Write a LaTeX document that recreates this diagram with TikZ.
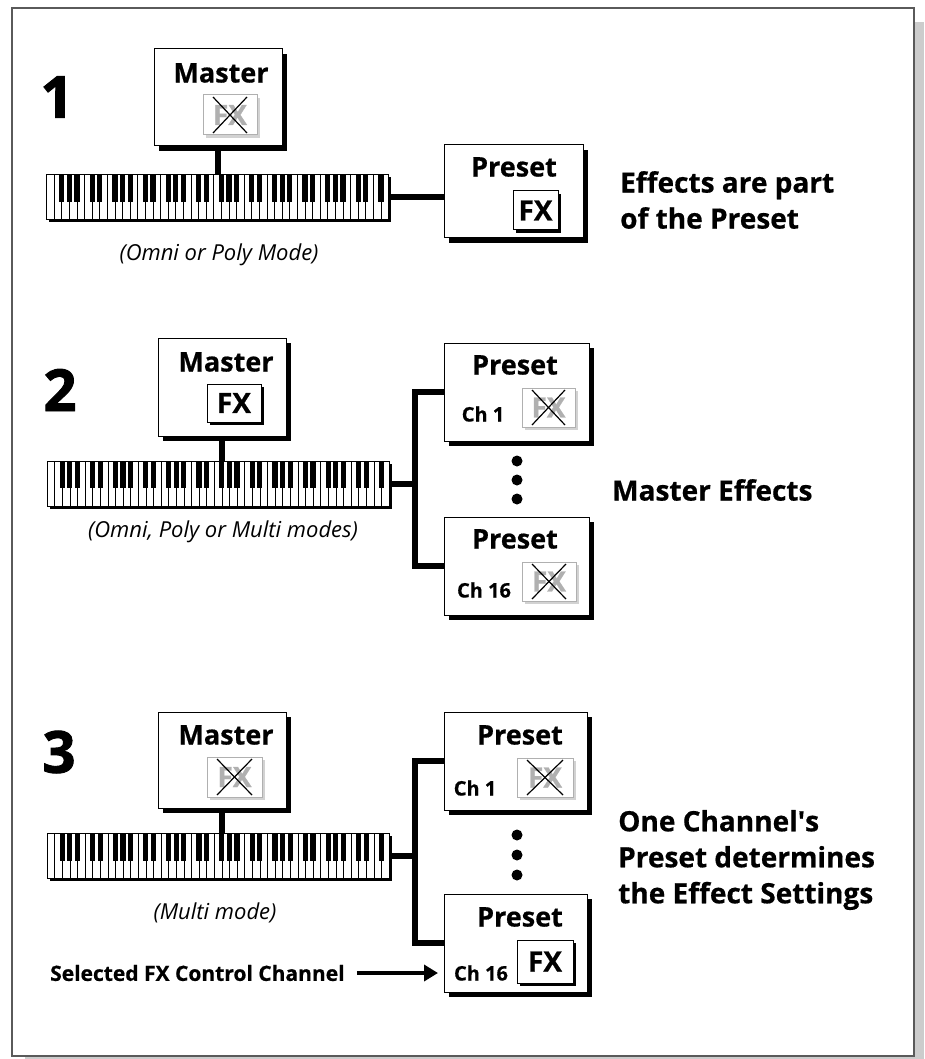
\documentclass[tikz,border=0pt]{standalone}
\usepackage{fontspec}
\setmainfont{Open Sans}[BoldFeatures={FakeBold=0.6}]
\newfontfamily\numfont[FakeBold=1.6]{Open Sans}
\usetikzlibrary{calc,shadows,arrows.meta}
\definecolor{FXGray}{HTML}{B0B0B0}
\definecolor{FXShade}{HTML}{D2D2D2}
\definecolor{FrameGray}{HTML}{5A5A5A}
\definecolor{FrameShade}{HTML}{CCCCCC}

\tikzset{
  unitbox/.style={draw=black, fill=white, line width=1pt, inner sep=0pt, outer sep=0pt,
    drop shadow={shadow xshift=5pt, shadow yshift=-5pt, fill=black, opacity=1}},
  fxon/.style={draw=black, fill=white, line width=1pt, inner sep=0pt, outer sep=0pt,
    font=\fontsize{28}{28}\selectfont\bfseries,
    drop shadow={shadow xshift=3pt, shadow yshift=-3pt, fill=black, opacity=1}},
  fxoff/.style={draw=FXGray, fill=white, line width=1pt, inner sep=0pt, outer sep=0pt,
    text=FXGray, font=\fontsize{28}{28}\selectfont\bfseries,
    drop shadow={shadow xshift=3pt, shadow yshift=-3pt, fill=FXShade, opacity=1}},
  keybed/.style={draw=black, fill=white, line width=1pt, inner sep=0pt, outer sep=0pt,
    minimum width=342pt, minimum height=45pt,
    drop shadow={shadow xshift=2.5pt, shadow yshift=-2.5pt, fill=black, opacity=1}},
  bus/.style={line width=6pt, line join=miter},
  xmark/.style={line width=1.2pt},
  fxarrow/.style={line width=4.5pt, -{Triangle[length=14pt,width=16pt]}},
  title/.style={font=\fontsize{27}{27}\selectfont\bfseries, inner sep=0pt},
  chan/.style={font=\fontsize{20}{20}\selectfont\bfseries, inner sep=0pt},
  callout/.style={font=\fontsize{21}{21}\selectfont\bfseries, inner sep=0pt, anchor=west},
  mode/.style={font=\fontsize{22}{22}\selectfont\itshape, inner sep=0pt},
  note/.style={font=\fontsize{28}{36}\selectfont\bfseries, align=left, anchor=west, inner sep=0pt},
  bignum/.style={font=\fontsize{58}{58}\selectfont\numfont\bfseries, inner sep=0pt},
}

% keys of a 76-note keyboard, E to G
\newcommand\drawkeys[1]{%
  \foreach \i in {1,...,44}
    \draw[line width=.6pt] ($(#1.north west)+(\i*7.6,0)$) -- ++(0,45);
  \foreach \o in {0,...,6}
    \foreach \k in {2,3,4,6,7} {
      \pgfmathtruncatemacro\bnd{7*\o+\k}
      \ifnum\bnd<45
        \fill ($(#1.north west)+(\bnd*7.6-2.6,0)$) rectangle ++(5.2,27);
      \fi
    }%
}
\newcommand\crossout[1]{%
  \draw[xmark] ($(#1.north west)+(10,2)$) -- ($(#1.south east)+(-10,-2)$);
  \draw[xmark] ($(#1.north east)+(-10,2)$) -- ($(#1.south west)+(10,-2)$);
}

\begin{document}
\begin{tikzpicture}[x=1pt,y=-1pt]
\useasboundingbox (0,0) rectangle (924,1059);
\fill[FrameShade] (25,22) rectangle (924,1059);
\draw[FrameGray, fill=white, line width=1.5pt] (12,8) rectangle (914,1056);

% 1: effects in the preset
\node[bignum] (numA) at (57,97) {1};
\node[unitbox, minimum width=128pt, minimum height=97pt] (mA) at (218,97.5) {};
\node[title] (mAt) at (221,73) {Master};
\node[fxoff, minimum width=54pt, minimum height=40pt] (mAfx) at (230,115) {FX};
\crossout{mAfx}
\node[keybed] (kbdA) at (217.5,197.5) {};
\drawkeys{kbdA}
\draw[bus] (mA.south) -- (mA.south |- kbdA.north);
\node[mode] (capA) at (219,255) {(Omni or Poly Mode)};
\node[unitbox, minimum width=139pt, minimum height=93pt] (pA) at (513.5,191.5) {};
\node[title] (pAt) at (514,167) {Preset};
\node[fxon, minimum width=45pt, minimum height=39pt] (pAfx) at (535.5,210.5) {FX};
\draw[bus] (kbdA.east) -- (kbdA.east -| pA.west);
\node[note] (noteA) at (620,200) {Effects are part\\of the Preset};

% 2: master effects
\node[bignum] (numB) at (60,390) {2};
\node[unitbox, minimum width=128pt, minimum height=98pt] (mB) at (222,387) {};
\node[title] (mBt) at (226,362) {Master};
\node[fxon, minimum width=54pt, minimum height=38pt] (mBfx) at (234,403) {FX};
\node[keybed] (kbdB) at (218,483.5) {};
\drawkeys{kbdB}
\draw[bus] (mB.south) -- (mB.south |- kbdB.north);
\node[mode] (capB) at (223,532) {(Omni, Poly or Multi modes)};
\node[unitbox, minimum width=145pt, minimum height=98pt] (pBa) at (516.5,392) {};
\node[title] (pBat) at (515,365) {Preset};
\node[chan] (pBach) at (483,414) {Ch 1};
\node[fxoff, minimum width=53pt, minimum height=39pt] (pBafx) at (548.5,407.5) {FX};
\crossout{pBafx}
\node[unitbox, minimum width=145pt, minimum height=98pt] (pBb) at (516.5,566) {};
\node[title] (pBbt) at (515,539) {Preset};
\node[chan] (pBbch) at (484,590) {Ch 16};
\node[fxoff, minimum width=54pt, minimum height=39pt] (pBbfx) at (549,581.5) {FX};
\crossout{pBbfx}
\foreach \y in {461,480,499} \fill (517,\y) circle (5.5pt);
\coordinate (busB) at ($(kbdB.east)+(26,0)$);
\draw[bus] (kbdB.east) -- (busB);
\draw[bus] (pBa.west) -| (busB) |- (pBb.west);
\node[note] (noteB) at (612,490) {Master Effects};

% 3: one channel sets the effects
\node[bignum] (numC) at (59,752) {3};
\node[unitbox, minimum width=128pt, minimum height=96pt] (mC) at (222,760) {};
\node[title] (mCt) at (226,735) {Master};
\node[fxoff, minimum width=55pt, minimum height=40pt] (mCfx) at (234.5,777) {FX};
\crossout{mCfx}
\node[keybed] (kbdC) at (218,856) {};
\drawkeys{kbdC}
\draw[bus] (mC.south) -- (mC.south |- kbdC.north);
\node[mode] (capC) at (215,913) {(Multi mode)};
\node[unitbox, minimum width=143pt, minimum height=98pt] (pCa) at (515.5,761) {};
\node[title] (pCat) at (520,735) {Preset};
\node[chan] (pCach) at (475,788) {Ch 1};
\node[fxoff, minimum width=56pt, minimum height=39pt] (pCafx) at (545,777.5) {FX};
\crossout{pCafx}
\node[unitbox, minimum width=143pt, minimum height=98pt] (pCb) at (515.5,943) {};
\node[title] (pCbt) at (520,917) {Preset};
\node[chan] (pCbch) at (481,973) {Ch 16};
\node[fxon, minimum width=56pt, minimum height=43pt] (pCbfx) at (545,961.5) {FX};
\foreach \y in {835,855,875} \fill (517,\y) circle (5.5pt);
\coordinate (busC) at ($(kbdC.east)+(26,0)$);
\draw[bus] (kbdC.east) -- (busC);
\draw[bus] (pCa.west) -| (busC) |- (pCb.west);
\node[note] (noteC) at (618,860) {One Channel\textquotesingle s\\Preset determines\\the Effect Settings};
\node[callout] (selC) at (50,973) {Selected FX Control Channel};
\draw[fxarrow, shorten <=12pt, shorten >=6pt] (selC.east) -- (selC.east -| pCb.west);
\end{tikzpicture}
\end{document}
